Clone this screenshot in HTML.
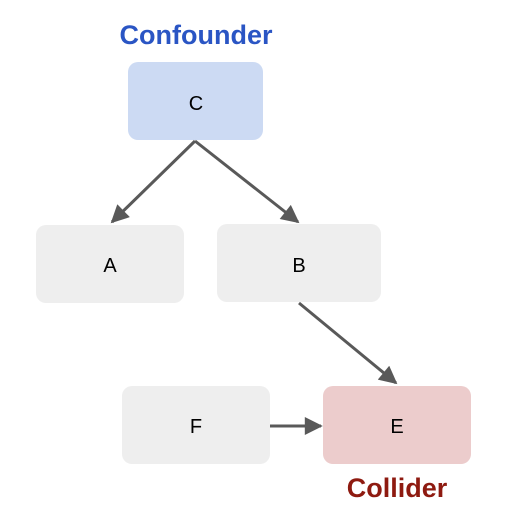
<!DOCTYPE html>
<html><head><style>
body{margin:0;background:#fff;width:508px;height:522px;overflow:hidden;font-family:"Liberation Sans",sans-serif;}
</style></head><body>
<svg width="508" height="522" xmlns="http://www.w3.org/2000/svg">
<defs>
<marker id="b" viewBox="0 0 10 10" markerWidth="22" markerHeight="18" refX="9" refY="5" orient="auto" markerUnits="userSpaceOnUse"><path d="M0,0 L10,5 L0,10 z" fill="#595959"/></marker></defs>
<text x="196" y="44" text-anchor="middle" font-size="27" font-weight="bold" fill="#2a55c4" font-family="Liberation Sans">Confounder</text>
<rect x="128" y="62" width="135" height="78" rx="10" fill="#ccdaf3"/>
<text x="196" y="110" text-anchor="middle" font-size="20">C</text>
<rect x="36" y="225" width="148" height="78" rx="10" fill="#eeeeee"/>
<text x="110" y="272" text-anchor="middle" font-size="20">A</text>
<rect x="217" y="224" width="164" height="78" rx="10" fill="#eeeeee"/>
<text x="299" y="272" text-anchor="middle" font-size="20">B</text>
<rect x="122" y="386" width="148" height="78" rx="10" fill="#eeeeee"/>
<text x="196" y="433" text-anchor="middle" font-size="20">F</text>
<rect x="323" y="386" width="148" height="78" rx="10" fill="#eccccc"/>
<text x="397" y="433" text-anchor="middle" font-size="20">E</text>
<text x="397" y="497" text-anchor="middle" font-size="27" font-weight="bold" fill="#8e1a10">Collider</text>
<g stroke="#595959" stroke-width="3" fill="none">
<line x1="195" y1="141" x2="112" y2="222" marker-end="url(#b)"/>
<line x1="195" y1="141" x2="298" y2="222" marker-end="url(#b)"/>
<line x1="299" y1="303" x2="396" y2="383" marker-end="url(#b)"/>
<line x1="270" y1="426" x2="321" y2="426" marker-end="url(#b)"/>
</g>
</svg>
</body></html>
